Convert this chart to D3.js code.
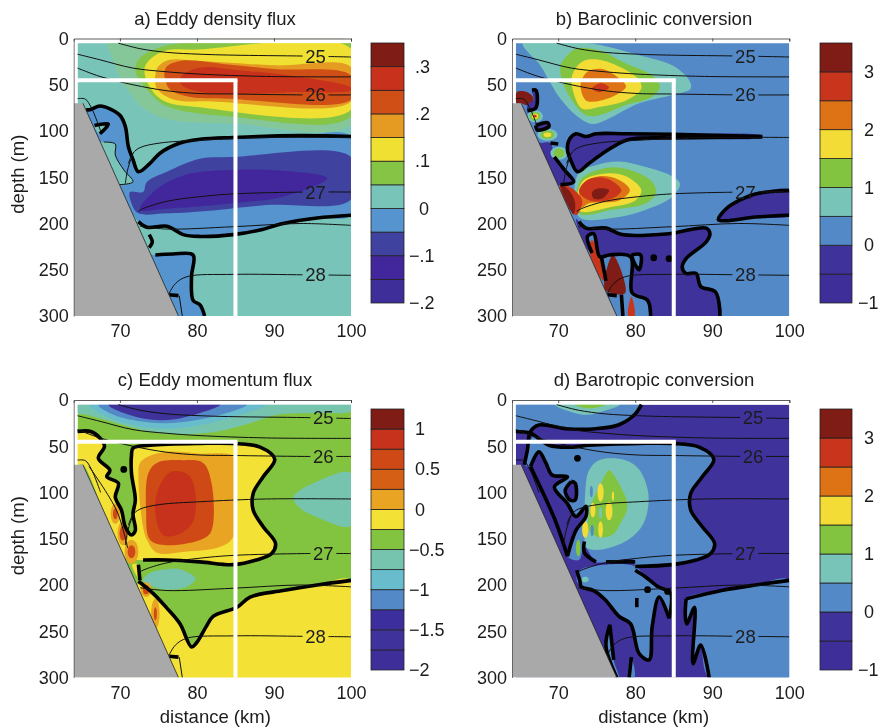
<!DOCTYPE html>
<html><head><meta charset="utf-8">
<script src="https://cdn.jsdelivr.net/npm/d3@7"></script>
<style>html,body{margin:0;background:#fff}svg{display:block;filter:blur(.3px)}text{font-family:"Liberation Sans",Arial,sans-serif;fill:#1c1c1c}</style>
</head><body><svg id="c" width="878" height="728"></svg>
<script>
// ---------- shared data (distance km, depth m) ----------
const xTicks=[70,80,90,100], yTicks=[0,50,100,150,200,250,300];
const slope=[[65.2,70],[77.6,300]];
const isoLines=[
 [[69.8,5],[72.6,11],[76.1,15],[80.4,17],[84.7,18],[94,19],[100,20]],
 [[64.5,17],[67.4,23],[71.7,32],[76.1,36],[80.4,38.5],[89,41],[100,41.5]],
 [[64.5,32],[67.4,41],[71.7,50],[76.1,56.5],[80.4,59.5],[84.7,60],[94,61],[100,61]],
 [[71.1,135],[71.7,124],[72.6,118],[75.2,113],[80.4,110],[89,107],[100,107]],
 [[72.4,187],[73,184],[76.1,176],[80.4,171],[84.7,168],[94,166],[100,166]],
 [[72.6,203],[76.1,206],[84.7,203.5],[93.4,200],[100,202]],
 [[76.3,277],[77.2,265],[78.7,257.5],[84.7,255],[94,255.5],[100,256]],
 [[64.5,65],[65.5,65.5],[66.3,75],[67.5,100]],
 [[70.7,157],[71,142],[71.7,124]]
];
const isoLabels=["25","26","27","28"];
const isoDepths=[19,61,166,255.5];

// ---------- panel a ----------
const aLabelKm=[95.4,95.4,95.4,95.4];
const aTicks=[-.2,-.1,0,.1,.2,.3], aTickText=["−.2","−.1","0",".1",".2",".3"];
const aColors=["#3e2f9a","#43289c","#40429f","#5594ce","#79c4b9","#85c444","#f0e030","#e59a22","#d04f17","#c8321a","#7f1d15"];
const aHalo=[[68.5,5],[100,5],[100,93],[84.7,92],[78.7,90],[75.2,85],[72.6,72],[70.7,52],[69.6,35],[69,20]];
const aBase=.025;
const aBands=[
 [.075,[[78,5],[100,5],[100,84],[84,84],[76,73],[73.5,55],[72,35],[72.5,22],[75,10]]],
 [.125,[[100,11],[80,12],[76,13],[74,22],[73.2,32],[73.7,50],[75.6,67],[80,74],[100,77]]],
 [.175,[[100,31],[90,29],[80,24],[76.5,23],[75,30],[74.6,40],[74.8,54],[77,66],[82,68],[100,68]]],
 [.225,[[100,40],[90,33],[84,28],[78,24],[76,31],[75.8,42],[76.5,55],[79,63],[84,65],[100,66]]],
 [.275,[[77.8,43],[79,35],[81,31],[85,34],[92,40],[100,53],[100,56],[92,58],[85,60],[80,57],[78,50]]],
 [-.025,[[65.6,77],[66.1,77],[67.4,73],[68.7,76],[70,83],[70.7,95],[71.1,117],[71.7,131],[72.4,144],[73.9,135],[75.2,124],[77.8,113],[80.4,109],[84.7,107],[93.4,105],[100,106],[100,191],[95.6,194],[91.2,200],[88.2,207],[84.7,212],[80.4,214],[78.2,212],[76.1,203],[73.5,204],[72.4,198]]],
 [.025,[[67.9,112],[69.4,114],[69.4,126],[70.5,142],[71.7,155],[70.5,158],[69.9,158],[67.4,112]]],
 [.025,[[66.7,94],[68.5,92.5],[67.4,103]]],
 [-.075,[[100,128],[84.7,128],[80.4,130],[76.1,144],[73.5,155],[73,166],[71.3,166],[71.5,178],[72.4,189],[76.1,189],[80.4,187],[89,180],[100,174]]],
 [-.125,[[74.6,164],[78.2,148],[84.7,142],[91.2,143],[96.9,151],[91.2,171],[84.7,178],[76.1,184],[72.6,185]]],
 [-.025,[[74,234],[74.6,234],[76.9,233],[79.5,234],[79.3,257],[79.5,283],[80.4,288],[81,300],[77.6,300]]]
];
const aThick=[
 [[65.6,77],[66.1,77],[67.4,73],[68.7,76],[70,83],[70.7,95],[71.1,117],[71.7,131],[72.4,144],[73.9,135],[75.2,124],[77.8,113],[80.4,109],[84.7,107],[93.4,105],[100,106]],
 [[72.4,198],[73.5,204],[76.1,203],[78.2,212],[80.4,214],[84.7,212],[88.2,207],[91.2,200],[95.6,194],[100,191]],
 [[74.6,234],[76.9,233],[79.5,234],[79.3,257],[79.5,283],[80.4,288],[81,300]],
 [[66.7,94],[68.5,92.5],[67.4,103]],
 [[73.8,212],[74.2,220],[73.8,226]],
 [[76.4,277],[77.6,278]]
];
const aThin=[[[67.9,112],[69.4,114],[69.4,126],[70.5,142],[71.7,155],[69.9,158]],[[77.7,278],[78.1,300]]];

// ---------- panel b ----------
const bLabelKm=[94.3,94.3,94.3,94.3];
const bTicks=[-1,0,1,2,3], bTickText=["−1","0","1","2","3"];
const bColors=["#3e2f9a","#40319b","#5389c7","#79c4b9","#82c341","#f3dc35","#de7318","#c8361a","#7f1d15"];
const bBase=.25;
const bBands=[
 [.75,[[65.4,5],[74,5],[80.5,18],[84.8,29],[87,45],[87.2,54],[84.8,61],[80.5,70],[76.2,88],[74.4,92.5],[72.3,83],[70.1,63],[68.8,45],[67.5,27],[66,14]]],
 [1.25,[[71,20],[72.3,11],[75.3,13],[78.8,27],[82.2,40],[83.2,52],[82.2,63],[78.8,72],[75.3,83],[73.6,83],[71.8,67],[70.5,45],[70.3,29]]],
 [1.75,[[71.8,40],[73.1,25],[75.3,23],[78.3,32],[80.5,45],[80.8,54],[78.8,67],[75.3,74],[73.1,76],[72,59]]],
 [2.25,[[72.9,50],[73.8,36],[75.7,33],[77.9,43],[78.8,52],[77.5,61],[74.9,68],[73.6,67]]],
 [2.75,[[74.4,54],[75.5,48],[76.6,53],[75.3,58]]],
 [.75,[[72.6,146],[74.9,137],[77.9,133],[81.4,139],[84.8,149],[85.8,157],[84.8,171],[81.4,185],[77,194],[72.7,193]]],
 [1.25,[[72.9,153],[76.2,140],[79.2,142],[82.2,155],[82.7,167],[81.4,178],[77,185],[72.7,189]]],
 [1.75,[[73.1,155],[76.2,146],[78.8,149],[80.8,164],[80,175],[77,182],[72.7,186]]],
 [2.25,[[73.1,158],[75.3,149],[77.9,153],[79.3,164],[77.9,175],[74,178],[72.9,183]]],
 [2.75,[[72.7,166],[73.8,153],[76.2,151],[78.2,164],[77,173],[74.4,176]]],
 [3.25,[[74.4,166],[75.3,162],[76.6,164],[75.7,173],[74.6,173]]],
 [2.75,[[70.2,158],[71.8,162],[73.1,175],[72.9,184],[72.3,191]]],
 [3.25,[[70.3,158],[71.5,165],[72.2,178],[72,190],[71.6,186]]],
 [-.25,[[71.4,110],[72.3,103],[73.6,106],[74.9,103],[78.8,103],[84.8,103.5],[96.5,105],[96.5,107],[84.8,107.5],[81.4,108],[78.8,110],[76.2,122],[74,135],[72.5,144],[71.6,131],[71.2,121]]],
 [-.25,[[67.9,113],[69,113],[69.5,128],[70.8,142],[72,155],[70.5,158],[69.9,158],[67.4,113]]],
 [-.25,[[67.1,94],[68.6,91],[68.8,95],[67.3,99]]],
 [3.25,[[64.6,58],[66,58],[66.8,65],[66,72],[65.2,70],[64.6,70]]],
 [-.25,[[66.6,56],[67.1,56],[67.1,75],[66,78],[66,72],[66.8,66]]],
 [-.25,[[90.8,196],[91.8,184],[93.5,175],[95.6,168],[100,164],[100,191],[95.6,193],[91.8,197]]],
 [-.25,[[72.3,195],[72.7,198],[73.6,205],[76.2,205],[78.3,212],[84.4,211],[89.2,205],[89.7,211],[89.2,220],[86.6,238],[86.1,247],[86.6,254],[87.9,254],[88.5,268],[90.4,274],[91,300],[82,300],[81.6,283],[79.6,275],[79.4,236],[76.6,234],[75.4,236],[74.6,211],[73.8,214],[74.4,232],[73.6,226]]],
 [.25,[[79.5,234],[80.7,234],[80.5,250],[79.9,243]]],
 [2.75,[[74.4,218],[75.5,236],[76,262],[75.2,255],[74,226]]],
 [3.25,[[77.1,234],[78.7,275],[76.1,272]]],
 [2.75,[[79.5,279],[79.9,300],[79.1,300]]]
];
const bSpots=[[67,84,.75,1,6.5],[67,84,1.25,.7,4.5],[67,84,1.75,.4,3],[67,84,2.75,.2,1.5],[68.6,104,.75,1.3,6.5],[68.6,104,1.25,.9,4.5],[68.6,104,1.75,.5,2.5],[70.1,124,.75,1.1,7],[70.1,124,1.25,.7,5]];
const bThick=[
 [[96.5,106],[84.8,103.5],[78.8,103],[74.9,103],[73.6,106],[72.3,103],[71.4,110],[71.2,121],[71.6,131],[72.5,144],[74,135],[76.2,122],[78.8,110],[81.4,107.5],[84.8,107.5],[96.5,106.5]],
 [[67.1,94],[68.6,91],[68.8,95],[67.3,99],[67.1,94]],
 [[66.6,56],[67.1,56],[67.1,75],[66,78]],
 [[70,114],[69,113]],
 [[69.5,128],[70.8,142],[72,155],[70.3,158]],
 [[100,164],[95.6,168],[93.5,175],[91.8,184],[90.8,196],[91.8,197],[95.6,193],[100,191]],
 [[72.7,198],[73.6,205],[76.2,205],[78.3,212],[84.4,211],[89.2,205],[89.7,211],[89.2,220],[86.6,238],[86.1,247],[86.6,254],[87.9,254],[88.5,268],[90.4,274],[91,300]],
 [[82,300],[81.6,283],[79.6,275],[79.4,236],[76.6,234],[75.4,236],[74.6,211],[73.8,214],[74.4,232]],
 [[79.5,234],[80.7,234],[80.5,250],[79.9,243],[79.5,234]],
 [[75.6,236],[76.2,262]],[[76.4,277],[77.6,278]],[[78.2,277],[78.4,300]]
];
const bDots=[[82.4,237],[84.4,238]];

// ---------- panel c ----------
const cLabelKm=[96.4,96.4,96.4,95.4];
const cTicks=[-2,-1.5,-1,-.5,0,.5,1], cTickText=["−2","−1.5","−1","−0.5","0","0.5","1"];
const cColors=["#3e2f9a","#40319b","#3e2f9e","#5389c7","#67bccb","#77c4ae","#82c341","#f3e136","#e8a422","#d65f19","#cf4a18","#c6321a","#7f1d15"];
const cBase=-.375;
const cBands=[
 [-.625,[[64.5,5],[100,5],[100,12],[95,14],[90.4,16],[86.9,25],[82.6,34],[78.2,37],[73.9,34],[69.6,25],[65.7,16],[64.5,14]]],
 [-.875,[[66.1,5],[68.3,18],[71.7,27],[76.1,31],[80.4,27],[84.7,18],[89,5]]],
 [-1.125,[[67.2,5],[69.2,16],[72.6,23],[76.1,25],[80.4,21],[84.3,13],[86.5,5]]],
 [-1.625,[[68.5,5],[70.5,14],[73.9,21],[76.9,21],[80.4,14],[83,5]]],
 [-.625,[[100,79],[95.6,88],[92.5,105],[93.4,117],[96,128],[100,136]]],
 [-.625,[[73,195],[73.9,187],[76.1,183],[77.8,183],[79.8,193],[78.7,202],[76.1,205],[74.3,202]]],
 [-.125,[[64.5,34],[66.2,34],[67.4,41],[68,50],[67.2,63],[68.7,76],[68.3,83],[69.8,90],[69.4,105],[70.2,119],[70.7,137],[71.5,146],[72,141],[71.7,123],[72,108],[71.5,79],[71.5,60],[71.7,52],[73.9,49],[80.4,47],[84.7,47],[88.2,51],[90.1,64],[88.6,83],[87.3,101],[87.3,119],[88.6,137],[90.2,155],[89.7,166],[87.7,173],[84.7,178],[80.4,175],[76.1,173],[73,173],[71,172],[70,165],[65.2,70],[64.5,70]]],
 [-.125,[[71.6,178],[72.4,178],[72.6,195],[72.4,193]]],
 [-.125,[[72.4,196],[74.3,209],[76.1,225],[77.8,242],[79.3,267],[79.9,263],[81.2,245],[82.1,234],[85.2,224],[86.9,213],[91.2,206],[95.6,200],[100,195],[100,300],[77.6,300]]],
 [.125,[[73.7,61],[76.1,56],[80.4,58],[84.7,61],[84.9,83],[84.7,148],[82.9,159],[78.5,164],[74.8,165],[73.5,151],[73,137],[72.4,83],[72.6,68]]],
 [.625,[[73.7,79],[74.8,68],[78.2,65],[80.8,68],[81.9,90],[81.9,141],[80.8,150],[76.1,157],[73.9,151],[73.4,119]]],
 [.875,[[74.8,101],[76.5,78],[78.9,81],[79.8,101],[79.4,133],[77.4,146],[75.6,146],[74.6,123]]]
];
const cSpots=[[69.4,123,.125,.6,11],[69.4,123,.625,.3,6],[70.4,144,.125,.7,13],[70.4,144,.625,.45,8],[71.5,164,.125,.9,13],[71.5,164,.625,.5,7],[73.4,205,.125,.7,8],[73.4,205,.625,.4,5],[74.6,231,.125,.55,16],[74.6,231,.625,.2,7]];
const cThick=[
 [[64.5,34],[66.2,34],[67.4,41],[68,50],[67.2,63],[68.7,76],[68.3,83],[69.8,90],[69.4,105],[70.2,119],[70.7,137],[71.5,146],[72,141],[71.7,123],[72,108],[71.5,79],[71.5,60],[71.7,52],[73.9,49],[80.4,47],[84.7,47],[88.2,51],[90.1,64],[88.6,83],[87.3,101],[87.3,119],[88.6,137],[90.2,155],[89.7,166],[87.7,173],[84.7,178],[80.4,175],[76.1,173],[73,173]],
 [[72.4,178],[72.6,195]],
 [[72.4,196],[74.3,209],[76.1,225],[77.8,242],[79.3,267],[79.9,263],[81.2,245],[82.1,234],[85.2,224],[86.9,213],[91.2,206],[95.6,200],[100,195]],
 [[76.4,277],[77.6,278]]
];
const cThin=[[[77.7,278],[78.1,300]],[[66,72],[69.6,120],[71,160]]];
const cDots=[[70.5,75]];

// ---------- panel d ----------
const dLabelKm=[95.3,95.3,94.3,94.3];
const dBase=-.25;
const dBands=[
 [.25,[[64.5,5],[80.8,5],[79.9,16],[77.8,27],[74.9,31],[71,31],[67.5,27],[66.4,34],[64.5,34]]],
 [.75,[[69.6,5],[78,5],[76.2,11],[73.7,16],[71,11]]],
 [1.25,[[72.2,5],[76.2,5],[74,9]]],
 [.25,[[66.9,38],[68.8,49],[71.8,51],[74,49],[80.5,47],[84.8,47],[88.3,51],[90.2,64],[88.7,83],[87.2,101],[87.2,119],[88.7,137],[90.3,155],[89.8,166],[87.9,173],[84.8,178],[80,180],[79.8,173],[76.2,175],[74.9,175],[73.4,159],[72.7,173],[71.2,169],[72.3,141],[73.6,126],[73.6,115],[72.3,126],[71.2,112],[69.5,94],[71.2,83],[69.2,81],[68.4,68],[67.5,56],[66.4,72],[65.6,70],[66,54]]],
 [-.25,[[71.7,88],[72.2,90],[72.2,108],[71.5,108],[70.9,98]]],
 [.25,[[72.8,184],[76.2,178],[80,180],[81.3,191],[83,202],[84.6,209],[84.4,236],[83.1,213],[82.2,245],[81.8,281],[80.5,274],[79.4,242],[77.9,234],[76.1,216],[74.6,206],[73,202],[72.4,195]]],
 [.25,[[86.6,215],[91.2,206],[95.6,200],[100,195],[100,300],[89.6,300],[88.5,265],[87.5,285],[87.7,224],[86.7,242],[86.5,234]]],
 [.25,[[76.7,243],[77.2,281],[77.9,300],[77.6,300],[76.2,266]]],
 [.25,[[79.5,278],[79.9,300],[79.1,300]]],
 [.75,[[74,76],[75.3,65],[78.7,65],[80.4,74],[81.7,101],[81.1,133],[79.1,151],[75.3,162],[73.6,159],[73.5,140],[73.5,101]]],
 [1.25,[[76.1,81],[76.6,76],[78.3,97],[79,115],[78.1,133],[77,146],[75.3,148],[74,141],[74.2,115],[75.3,94]]]
];
const dSpots=[[75.5,100,1.75,.4,10],[76.6,120,1.75,.45,10],[74.5,119,1.75,.33,8],[73.5,140,1.75,.4,9],[75.5,140,1.75,.3,9],[77.1,104,1.75,.15,5],[72.6,160,1.25,.3,9],[74.3,99,.25,.2,6],[74.4,141,.25,.2,6],[75.5,122,.75,.2,6],[73.5,194,.75,.45,3]];
const dThick=[
 [[80.8,5],[79.9,16],[77.8,27],[74.9,31],[71,31],[67.5,27],[66.4,34],[66,54],[65.6,70]],
 [[64.5,34],[66.4,36],[68.8,49],[71.8,51],[74,49],[80.5,47],[84.8,47],[88.3,51],[90.2,64],[88.7,83],[87.2,101],[87.2,119],[88.7,137],[90.3,155],[89.8,166],[87.9,173],[84.8,178],[80,180]],
 [[66.4,72],[67.5,56],[68.4,68],[69.2,81],[71.2,83],[69.5,94],[71.2,112],[72.3,126],[73.6,115],[73.6,126],[72.3,141],[71.2,169]],
 [[71.7,88],[72.2,90],[72.2,108],[71.5,108],[70.9,98],[71.7,88]],
 [[73.4,153],[73.4,165],[74.9,175]],[[76.2,175],[80,175]],
 [[80,184],[81.3,191],[83,202],[84.6,209],[84.4,236]],
 [[86.6,215],[91.2,206],[95.6,200],[100,195]],
 [[86.6,215],[86.5,234],[86.7,242],[87.7,224],[87.5,285],[88.5,265],[89.6,300]],
 [[72.4,184],[72.8,195],[73,202],[74.6,206],[76.1,216],[77.9,234],[79.4,242],[80.5,274],[81.8,281],[82.2,245],[83.1,213],[84.4,236]],
 [[80.2,214],[80.2,224]],
 [[76.7,243],[76.2,266],[77.6,300]],[[76.7,243],[77.2,281]],[[79.5,278],[79.2,300]],
 [[66.4,72],[69.6,130],[71.2,169]]
];
const dDots=[[72.5,63],[81.6,205],[84.2,207]];

// ---------- drawing ----------
const svg=d3.select("#c");
const defs=svg.append("defs");
defs.append("filter").attr("id","soft").append("feGaussianBlur").attr("stdDeviation",.4);
const panels=[
 {id:"a",title:"a) Eddy density flux",x0:73.7,x1:351,y0:38.5,y1:316,cx:215,bands:aBands,base:aBase,colors:aColors,dom:[-.2,.35],thick:aThick,thin:aThin,labelKm:aLabelKm,spots:[],dots:[],halo:aHalo,bar:[371,404,43,303],ticks:aTicks,tickText:aTickText,cbx:415,left:true},
 {id:"b",title:"b) Baroclinic conversion",x0:512,x1:789.3,y0:38.5,y1:316,cx:654,bands:bBands,base:bBase,colors:bColors,dom:[-1,3.5],thick:bThick,thin:[],labelKm:bLabelKm,spots:bSpots,dots:bDots,bar:[820,852,43,303],ticks:bTicks,tickText:bTickText,cbx:864},
 {id:"c",title:"c) Eddy momentum flux",x0:73.7,x1:351,y0:400,y1:677.5,cx:215,bands:cBands,base:cBase,colors:cColors,dom:[-2,1.25],thick:cThick,thin:cThin,labelKm:cLabelKm,spots:cSpots,dots:cDots,bar:[371,404,409,670],ticks:cTicks,tickText:cTickText,cbx:415,left:true,bottom:true},
 {id:"d",title:"d) Barotropic conversion",x0:512,x1:789.3,y0:400,y1:677.5,cx:654,bands:dBands,base:dBase,colors:bColors,dom:[-1,3.5],thick:dThick,thin:[],labelKm:dLabelKm,spots:dSpots,dots:dDots,bar:[820,852,409,670],ticks:bTicks,tickText:bTickText,cbx:864,bottom:true}
];
panels.forEach(p=>{
 const x=d3.scaleLinear().domain([64,100]).range([p.x0,p.x1]);
 const y=d3.scaleLinear().domain([0,300]).range([p.y0,p.y1]);
 const col=d3.scaleQuantize().domain(p.dom).range(p.colors);
 const line=d3.line().x(d=>x(d[0])).y(d=>y(d[1]));
 const smooth=d3.line().x(d=>x(d[0])).y(d=>y(d[1])).curve(d3.curveCatmullRom.alpha(.5));
 const closed=d3.line().x(d=>x(d[0])).y(d=>y(d[1])).curve(d3.curveCatmullRomClosed.alpha(.5));
 const clipId="clip"+p.id, maskId="mask"+p.id;
 defs.append("clipPath").attr("id",clipId).append("rect").attr("x",x(64)).attr("y",y(0)).attr("width",x(100)-x(64)).attr("height",y(300)-y(0));
 const m=defs.append("mask").attr("id",maskId).attr("maskUnits","userSpaceOnUse").attr("x",0).attr("y",0).attr("width",878).attr("height",728);
 m.append("rect").attr("width",878).attr("height",728).attr("fill","#fff");
 isoLabels.forEach((l,i)=>m.append("rect").attr("x",x(p.labelKm[i])-13).attr("y",y(isoDepths[i])-8).attr("width",26).attr("height",16).attr("fill","#000"));
 const g=svg.append("g").attr("clip-path",`url(#${clipId})`).append("g").attr("filter","url(#soft)");
 g.append("rect").attr("x",x(64.5)).attr("y",y(5)).attr("width",x(100)-x(64.5)).attr("height",y(300)-y(5)).attr("fill",col(p.base));
 if(p.halo) g.append("path").attr("d",closed(p.halo)).attr("fill","#86c79a");
 g.selectAll("path.band").data(p.bands).join("path").attr("class","band").attr("d",d=>closed(d[1])).attr("fill",d=>col(d[0]));
 g.selectAll("ellipse").data(p.spots).join("ellipse").attr("cx",d=>x(d[0])).attr("cy",d=>y(d[1])).attr("rx",d=>x(d[3])-x(0)).attr("ry",d=>y(d[4])-y(0)).attr("fill",d=>col(d[2]));
 g.append("rect").attr("x",x(64)).attr("y",y(0)).attr("width",x(100)-x(64)).attr("height",y(5)-y(0)).attr("fill","#fff");
 g.append("rect").attr("x",x(64)).attr("y",y(0)).attr("width",x(64.5)-x(64)).attr("height",y(300)-y(0)).attr("fill","#fff");
 g.selectAll("path.thick").data(p.thick).join("path").attr("class","thick").attr("d",smooth).attr("fill","none").attr("stroke","#000").attr("stroke-width",3.6).attr("stroke-linejoin","round");
 g.selectAll("path.thin2").data(p.thin).join("path").attr("class","thin2").attr("d",smooth).attr("fill","none").attr("stroke","#111").attr("stroke-width",1);
 g.selectAll("circle").data(p.dots).join("circle").attr("cx",d=>x(d[0])).attr("cy",d=>y(d[1])).attr("r",3.4).attr("fill","#000");
 g.append("g").attr("mask",`url(#${maskId})`).selectAll("path").data(isoLines).join("path").attr("d",smooth).attr("fill","none").attr("stroke","#111").attr("stroke-width",1);
 g.append("path").attr("d",line([[64,slope[0][1]],slope[0],slope[1],[64,300]])+"Z").attr("fill","#a9a9a9");
 g.append("path").attr("d",line(slope)).attr("stroke","#222").attr("stroke-width",.8).attr("fill","none");
 const w=4;
 g.append("line").attr("x1",x(64)).attr("x2",x(85)+w/2).attr("y1",y(45)).attr("y2",y(45)).attr("stroke","#fff").attr("stroke-width",w);
 g.append("line").attr("x1",x(85)).attr("x2",x(85)).attr("y1",y(45)).attr("y2",y(300)).attr("stroke","#fff").attr("stroke-width",w);
 isoLabels.forEach((l,i)=>svg.append("text").attr("x",x(p.labelKm[i])).attr("y",y(isoDepths[i])+6.5).attr("text-anchor","middle").attr("font-size",18.5).text(l));
 const ax=svg.append("g").attr("transform",`translate(0,${p.y1})`).call(d3.axisBottom(x).tickValues(xTicks).tickSize(0).tickPadding(8.5));
 ax.select(".domain").remove(); ax.selectAll("text").attr("font-size",18);
 const ay=svg.append("g").attr("transform",`translate(${p.x0},0)`).call(d3.axisLeft(y).tickValues(yTicks).tickSize(0).tickPadding(5));
 ay.select(".domain").attr("stroke","#555").attr("stroke-width",.8); ay.selectAll("text").attr("font-size",18);
 const at=svg.append("g").attr("transform",`translate(0,${p.y0})`).call(d3.axisTop(x).tickValues(xTicks).tickSize(-3).tickFormat(""));
 at.select(".domain").attr("stroke","#333").attr("stroke-width",.8); at.selectAll("line").attr("stroke","#333").attr("stroke-width",.8);
 svg.append("text").attr("x",p.cx).attr("y",p.y0-14).attr("text-anchor","middle").attr("font-size",18.5).text(p.title);
 if(p.left) svg.append("text").attr("transform",`translate(24,${(p.y0+p.y1)/2-3}) rotate(-90)`).attr("text-anchor","middle").attr("font-size",18.5).text("depth (m)");
 if(p.bottom) svg.append("text").attr("x",(p.x0+p.x1)/2+3).attr("y",p.y1+45).attr("text-anchor","middle").attr("font-size",18.5).text("distance (km)");
 const [bx0,bx1,by0,by1]=p.bar;
 const n=p.colors.length, cb=d3.scaleLinear().domain(p.dom).range([by1,by0]);
 const step=(p.dom[1]-p.dom[0])/n;
 const cg=svg.append("g").attr("filter","url(#soft)");
 cg.selectAll("rect").data(p.colors).join("rect").attr("x",bx0).attr("width",bx1-bx0)
  .attr("y",(c,i)=>cb(p.dom[0]+(i+1)*step)).attr("height",(by1-by0)/n).attr("fill",c=>c).attr("stroke","#222").attr("stroke-width",.8);
 const ca=svg.append("g").attr("transform",`translate(${p.cbx},0)`).call(d3.axisRight(cb).tickValues(p.ticks).tickSize(0).tickFormat((d,i)=>p.tickText[i]));
 ca.select(".domain").remove();
 ca.selectAll("text").attr("font-size",18).attr("x",(d,i)=>p.tickText[i][0]==="−"?-6:(p.tickText[i]==="0"&&p.id==="a"?4:0));
});
</script></body></html>
